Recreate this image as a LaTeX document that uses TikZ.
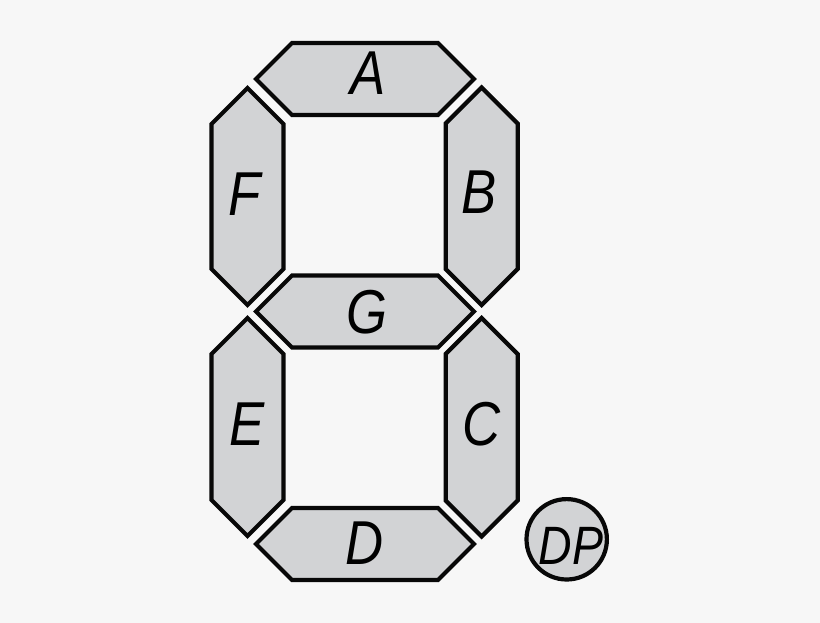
\documentclass[tikz,border=0pt]{standalone}
\usepackage{fontspec}
\setmainfont{Liberation Sans}
\begin{document}
\begin{tikzpicture}[x=1pt,y=-1pt,
  seg/.style={fill=segfill,draw=segline,line width=4.2pt,line join=miter},
  lab/.style={anchor=base,inner sep=0pt,font=\fontsize{62}{62}\selectfont\itshape,xscale=0.85},
  dplab/.style={anchor=base,inner sep=0pt,font=\fontsize{54}{54}\selectfont\itshape,xscale=0.86}]
\definecolor{segfill}{HTML}{D2D3D5}
\definecolor{segline}{HTML}{080808}
\definecolor{bgc}{HTML}{F7F7F7}
\fill[bgc] (0,0) rectangle (820,623);
\useasboundingbox (0,0) rectangle (820,623);
\newcommand\hsegm[2]{\draw[seg] (#1-109,#2) -- (#1-73,#2-36) -- (#1+73,#2-36) -- (#1+109,#2) -- (#1+73,#2+36) -- (#1-73,#2+36) -- cycle;}
\newcommand\vsegm[3]{\draw[seg] (#1,#2) -- (#1+36,#2+36) -- (#1+36,#3-36) -- (#1,#3) -- (#1-36,#3-36) -- (#1-36,#2+36) -- cycle;}
% horizontal segments
\hsegm{365}{79}
\hsegm{365}{311.5}
\hsegm{365}{544}
% vertical segments
\vsegm{247.5}{88}{305}
\vsegm{481.7}{87.5}{305}
\vsegm{247.5}{318}{536}
\vsegm{481.7}{318}{536.5}
% decimal point
\draw[seg] (566.7,539.3) circle[radius=40.2];
% labels
\node[lab] (la) at (368,95) {A};
\node[lab] (lb) at (479,214) {B};
\node[lab] (lc) at (481.7,445) {C};
\node[lab] (ld) at (365,564) {D};
\node[lab] (le) at (247,445) {E};
\node[lab] (lf) at (245,215) {F};
\node[lab] (lg) at (366.7,333) {G};
\node[dplab] (ldp) at (571,564) {DP};
\end{tikzpicture}
\end{document}
